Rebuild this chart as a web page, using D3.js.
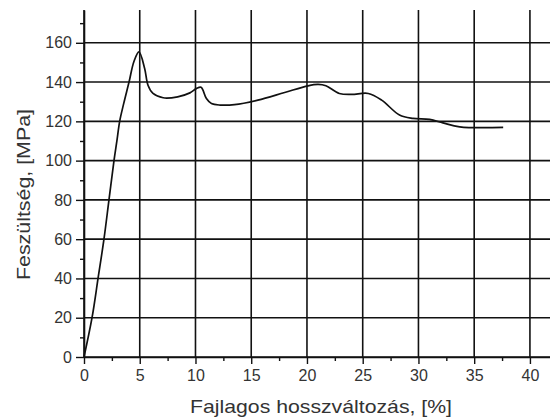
<!DOCTYPE html>
<html>
<head>
<meta charset="utf-8">
<script src="https://cdn.jsdelivr.net/npm/d3@7"></script>
<style>
  html, body { margin: 0; padding: 0; background: #fff; }
  svg { display: block; }
  text { font-family: "Liberation Sans", Arial, sans-serif; fill: #333; }
</style>
</head>
<body>
<div id="chart"></div>
<script>
// strain [%] and stress [MPa]
const strainPct = [0, 0.72, 1.26, 1.79, 2.24, 2.69, 2.96, 3.2, 3.56, 4.04, 4.48, 4.93,
  5.44, 5.74, 6.19, 7.1, 8.4, 9.5, 10.1, 10.5, 10.67, 10.98, 11.43, 12.2, 13.5,
  15.6, 18.0, 20.1, 21.0, 21.7, 22.9, 24.0, 25.5, 26.7, 28.3, 29.5, 31.0, 32.2,
  33.7, 37.6];
const stressMPa = [0, 20, 40, 60, 80, 100, 110.4, 120, 129, 140, 150.5, 155.4,
  146.9, 138.4, 134.2, 132, 132.5, 134.5, 136.8, 137.4, 135.9, 131.6, 129.1, 128.3, 128.5,
  130.8, 134.7, 138.1, 138.8, 138.1, 134.2, 133.7, 134.2, 130.8, 123.2, 121.5, 121.0, 119.2,
  117.2, 116.9];

const xTicks = [0, 5, 10, 15, 20, 25, 30, 35, 40];
const yTicks = [0, 20, 40, 60, 80, 100, 120, 140, 160];
const xTitle = 'Fajlagos hosszváltozás, [%]';
const yTitle = 'Feszültség, [MPa]';

const width = 550, height = 419;
const margin = { top: 10, right: 0, bottom: 62, left: 84 };

const x = d3.scaleLinear()
  .domain([0, 41.8])
  .range([margin.left, width - margin.right]);
const y = d3.scaleLinear()
  .domain([0, 176.7])
  .range([height - margin.bottom, margin.top]);

const svg = d3.select('#chart')
  .append('svg')
    .attr('width', width)
    .attr('height', height);

// grid
svg.append('g')
  .selectAll('line')
  .data(xTicks)
  .enter()
  .append('line')
    .attr('x1', d => x(d)).attr('x2', d => x(d))
    .attr('y1', y.range()[1]).attr('y2', y.range()[0])
    .attr('stroke', '#111').attr('stroke-width', 1.6);

svg.append('g')
  .selectAll('line')
  .data(yTicks)
  .enter()
  .append('line')
    .attr('x1', x.range()[0]).attr('x2', x.range()[1])
    .attr('y1', d => y(d)).attr('y2', d => y(d))
    .attr('stroke', '#111').attr('stroke-width', 1.6);

// minor ticks halfway between the majors
let xMinor = xTicks.slice(0, -1).map(d => d + 2.5);
let yMinor = yTicks.map(d => d + 10);

svg.append('g')
  .attr('transform', `translate(0,${y(0)})`)
  .call(d3.axisBottom(x).tickValues(xTicks).tickSize(7).tickPadding(6).tickSizeOuter(0));
svg.append('g')
  .attr('transform', `translate(0,${y(0)})`)
  .call(d3.axisBottom(x).tickValues(xMinor).tickSize(4).tickFormat('').tickSizeOuter(0))
  .select('.domain').remove();

svg.append('g')
  .attr('transform', `translate(${x(0)},0)`)
  .call(d3.axisLeft(y).tickValues(yTicks).tickSize(8).tickPadding(4).tickSizeOuter(0));
svg.append('g')
  .attr('transform', `translate(${x(0)},0)`)
  .call(d3.axisLeft(y).tickValues(yMinor).tickSize(4).tickFormat('').tickSizeOuter(0))
  .select('.domain').remove();

svg.selectAll('.domain').attr('stroke', '#111').attr('stroke-width', 1.6);
svg.selectAll('.tick line').attr('stroke', '#111').attr('stroke-width', 1.4);
svg.selectAll('.tick text')
  .attr('fill', '#333')
  .style('font-family', '"Liberation Sans", Arial, sans-serif')
  .style('font-size', '16px');

// curve
let curveData = strainPct.map((d, i) => ({ x: d, y: stressMPa[i] }));
let lineGen = d3.line()
  .x(d => x(d.x))
  .y(d => y(d.y))
  .curve(d3.curveCatmullRom.alpha(0.5));

svg.append('path')
  .datum(curveData)
  .attr('d', lineGen)
  .attr('fill', 'none')
  .attr('stroke', '#111')
  .attr('stroke-width', 1.7);

// axis titles
svg.append('text')
  .attr('x', 321)
  .attr('y', 413)
  .attr('text-anchor', 'middle')
  .attr('textLength', 262)
  .attr('lengthAdjust', 'spacingAndGlyphs')
  .style('font-size', '19px')
  .text(xTitle);

svg.append('text')
  .attr('transform', 'translate(30,194.5) rotate(-90)')
  .attr('text-anchor', 'middle')
  .attr('textLength', 171)
  .attr('lengthAdjust', 'spacingAndGlyphs')
  .style('font-size', '18px')
  .text(yTitle);
</script>
</body>
</html>
